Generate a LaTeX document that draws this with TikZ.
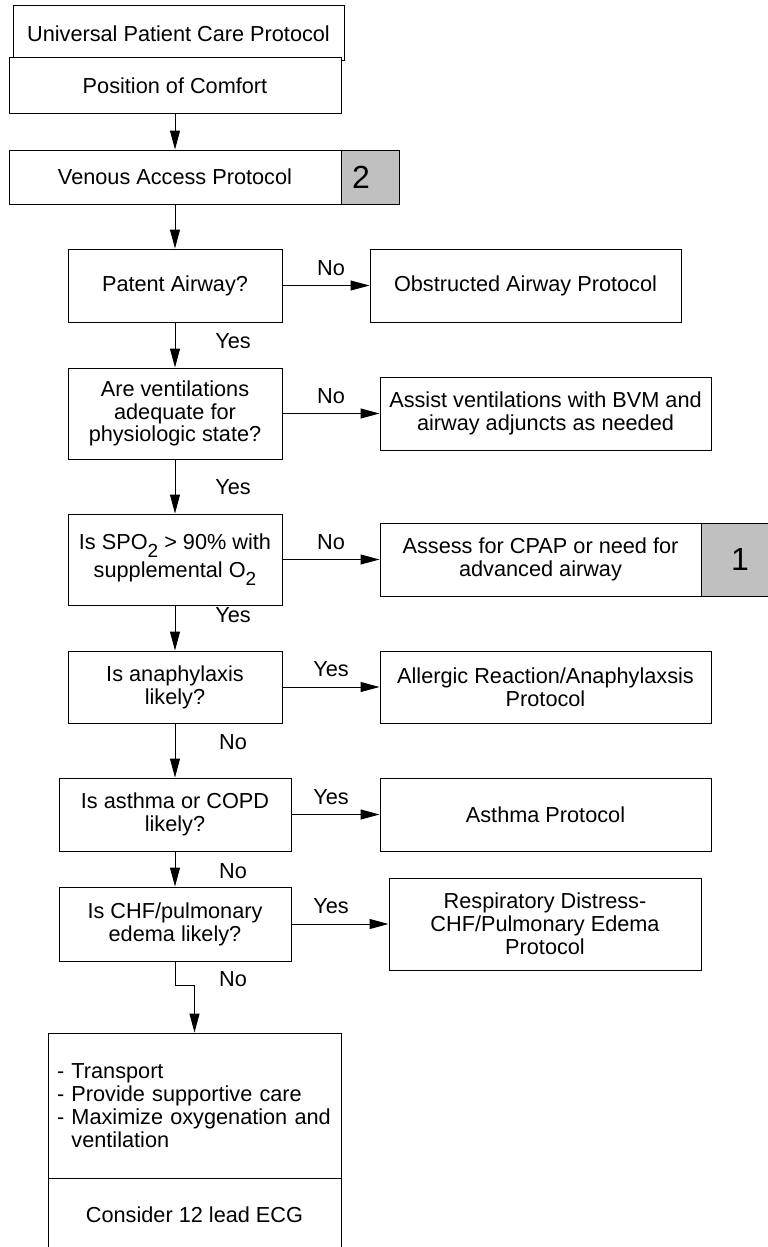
\documentclass[tikz,border=0pt]{standalone}
\usepackage{fontspec}
\setmainfont{Liberation Sans}
\usetikzlibrary{arrows.meta}
\newcommand\lowsub[1]{\raisebox{-0.36em}{\fontsize{19}{19}\selectfont #1}}
\begin{document}
\begin{tikzpicture}[x=1pt,y=-1pt,
  box/.style={draw=black, line width=1pt, fill=white, rectangle, inner sep=0pt, align=center, font=\fontsize{21.7}{22.8}\selectfont},
  graybox/.style={draw=black, line width=1pt, fill={rgb,255:red,192;green,192;blue,192}, rectangle, inner sep=0pt, font=\fontsize{32}{32}\selectfont},
  lbl/.style={inner sep=0pt, font=\fontsize{21.7}{22.8}\selectfont},
  arr/.style={draw=black, line width=1pt, -{Triangle[length=19pt,width=10pt]}}
]
\useasboundingbox (0,0) rectangle (768,1247);
\clip (0,0) rectangle (768,1247);
\fill[white] (0,0) rectangle (768,1247);

% top column
\node[box, minimum width=331pt, minimum height=55pt] (univ) at (178.5,33.5) {Universal Patient Care Protocol};
\node[box, minimum width=332pt, minimum height=55pt] (pos) at (175,85.5) {Position of Comfort};
\node[box, minimum width=332pt, minimum height=54pt] (venous) at (175,177) {Venous Access Protocol};
\node[graybox, minimum width=58pt, minimum height=54pt] (g2) at (370,177) {\hspace*{-18pt}2};

% decisions
\node[box, minimum width=214pt, minimum height=73pt] (patent) at (175,285.5) {Patent Airway?};
\node[box, minimum width=311pt, minimum height=73pt] (obstr) at (525.5,285.5) {Obstructed Airway Protocol};

\node[box, minimum width=214pt, minimum height=91pt] (vent) at (175,413.5) {Are ventilations\\adequate for\\physiologic state?};
\node[box, minimum width=331pt, minimum height=73pt] (assist) at (545.5,413.5) {Assist ventilations with BVM and\\airway adjuncts as needed};

\node[box, minimum width=214pt, minimum height=91pt] (spo) at (175,559.5) {Is SPO\lowsub{2} > 90\% with\\[4pt]supplemental O\lowsub{2}};
\node[box, minimum width=321pt, minimum height=73pt] (assess) at (540.5,559.5) {Assess for CPAP or need for\\advanced airway};
\node[graybox, minimum width=78pt, minimum height=73pt] (g1) at (740,559.5) {1};

\node[box, minimum width=214pt, minimum height=72pt] (anaph) at (175,687) {Is anaphylaxis\\likely?};
\node[box, minimum width=331pt, minimum height=72pt] (allerg) at (545.5,687) {Allergic Reaction/Anaphylaxsis\\Protocol};

\node[box, minimum width=232pt, minimum height=73pt] (asthq) at (175,814.5) {Is asthma or COPD\\likely?};
\node[box, minimum width=331pt, minimum height=73pt] (asthp) at (545.5,814.5) {Asthma Protocol};

\node[box, minimum width=232pt, minimum height=74pt] (chf) at (175,924) {Is CHF/pulmonary\\edema likely?};
\node[box, minimum width=312pt, minimum height=92pt] (resp) at (545,924) {Respiratory Distress-\\CHF/Pulmonary Edema\\Protocol};

\node[box, text width=275pt, align=left, inner xsep=9pt, minimum height=145pt] (final) at (194.5,1105.5) {- Transport\\- Provide supportive care\\- Maximize oxygenation and\\\phantom{- }ventilation};
\node[box, minimum width=293pt, minimum height=74pt] (ecg) at (194.5,1215) {Consider 12 lead ECG};

% connectors
\draw[arr] (pos) -- (venous);
\draw[arr] (venous) -- (patent);
\draw[arr] (patent) -- (obstr);
\draw[arr] (patent) -- (vent);
\draw[arr] (vent) -- (assist);
\draw[arr] (vent) -- (spo);
\draw[arr] (spo) -- (assess);
\draw[arr] (spo) -- (anaph);
\draw[arr] (anaph) -- (allerg);
\draw[arr] (anaph) -- (asthq);
\draw[arr] (asthq) -- (asthp);
\draw[arr] (asthq) -- (chf);
\draw[arr] (chf) -- (resp);
\coordinate (b1) at (175,985);
\coordinate (b2) at (194.5,985);
\draw[arr] (chf.south) -- (b1) -- (b2) -- (final.north);

% labels
\node[lbl] (n1) at (331,268) {No};
\node[lbl] (y1) at (233,341) {Yes};
\node[lbl] (n2) at (331,396) {No};
\node[lbl] (y2) at (233,487) {Yes};
\node[lbl] (n3) at (331,542) {No};
\node[lbl] (y3) at (233,615) {Yes};
\node[lbl] (y4) at (331,669) {Yes};
\node[lbl] (n4) at (233,742) {No};
\node[lbl] (y5) at (331,797) {Yes};
\node[lbl] (n5) at (233,871) {No};
\node[lbl] (y6) at (331,906) {Yes};
\node[lbl] (n6) at (233,979) {No};
\end{tikzpicture}
\end{document}
